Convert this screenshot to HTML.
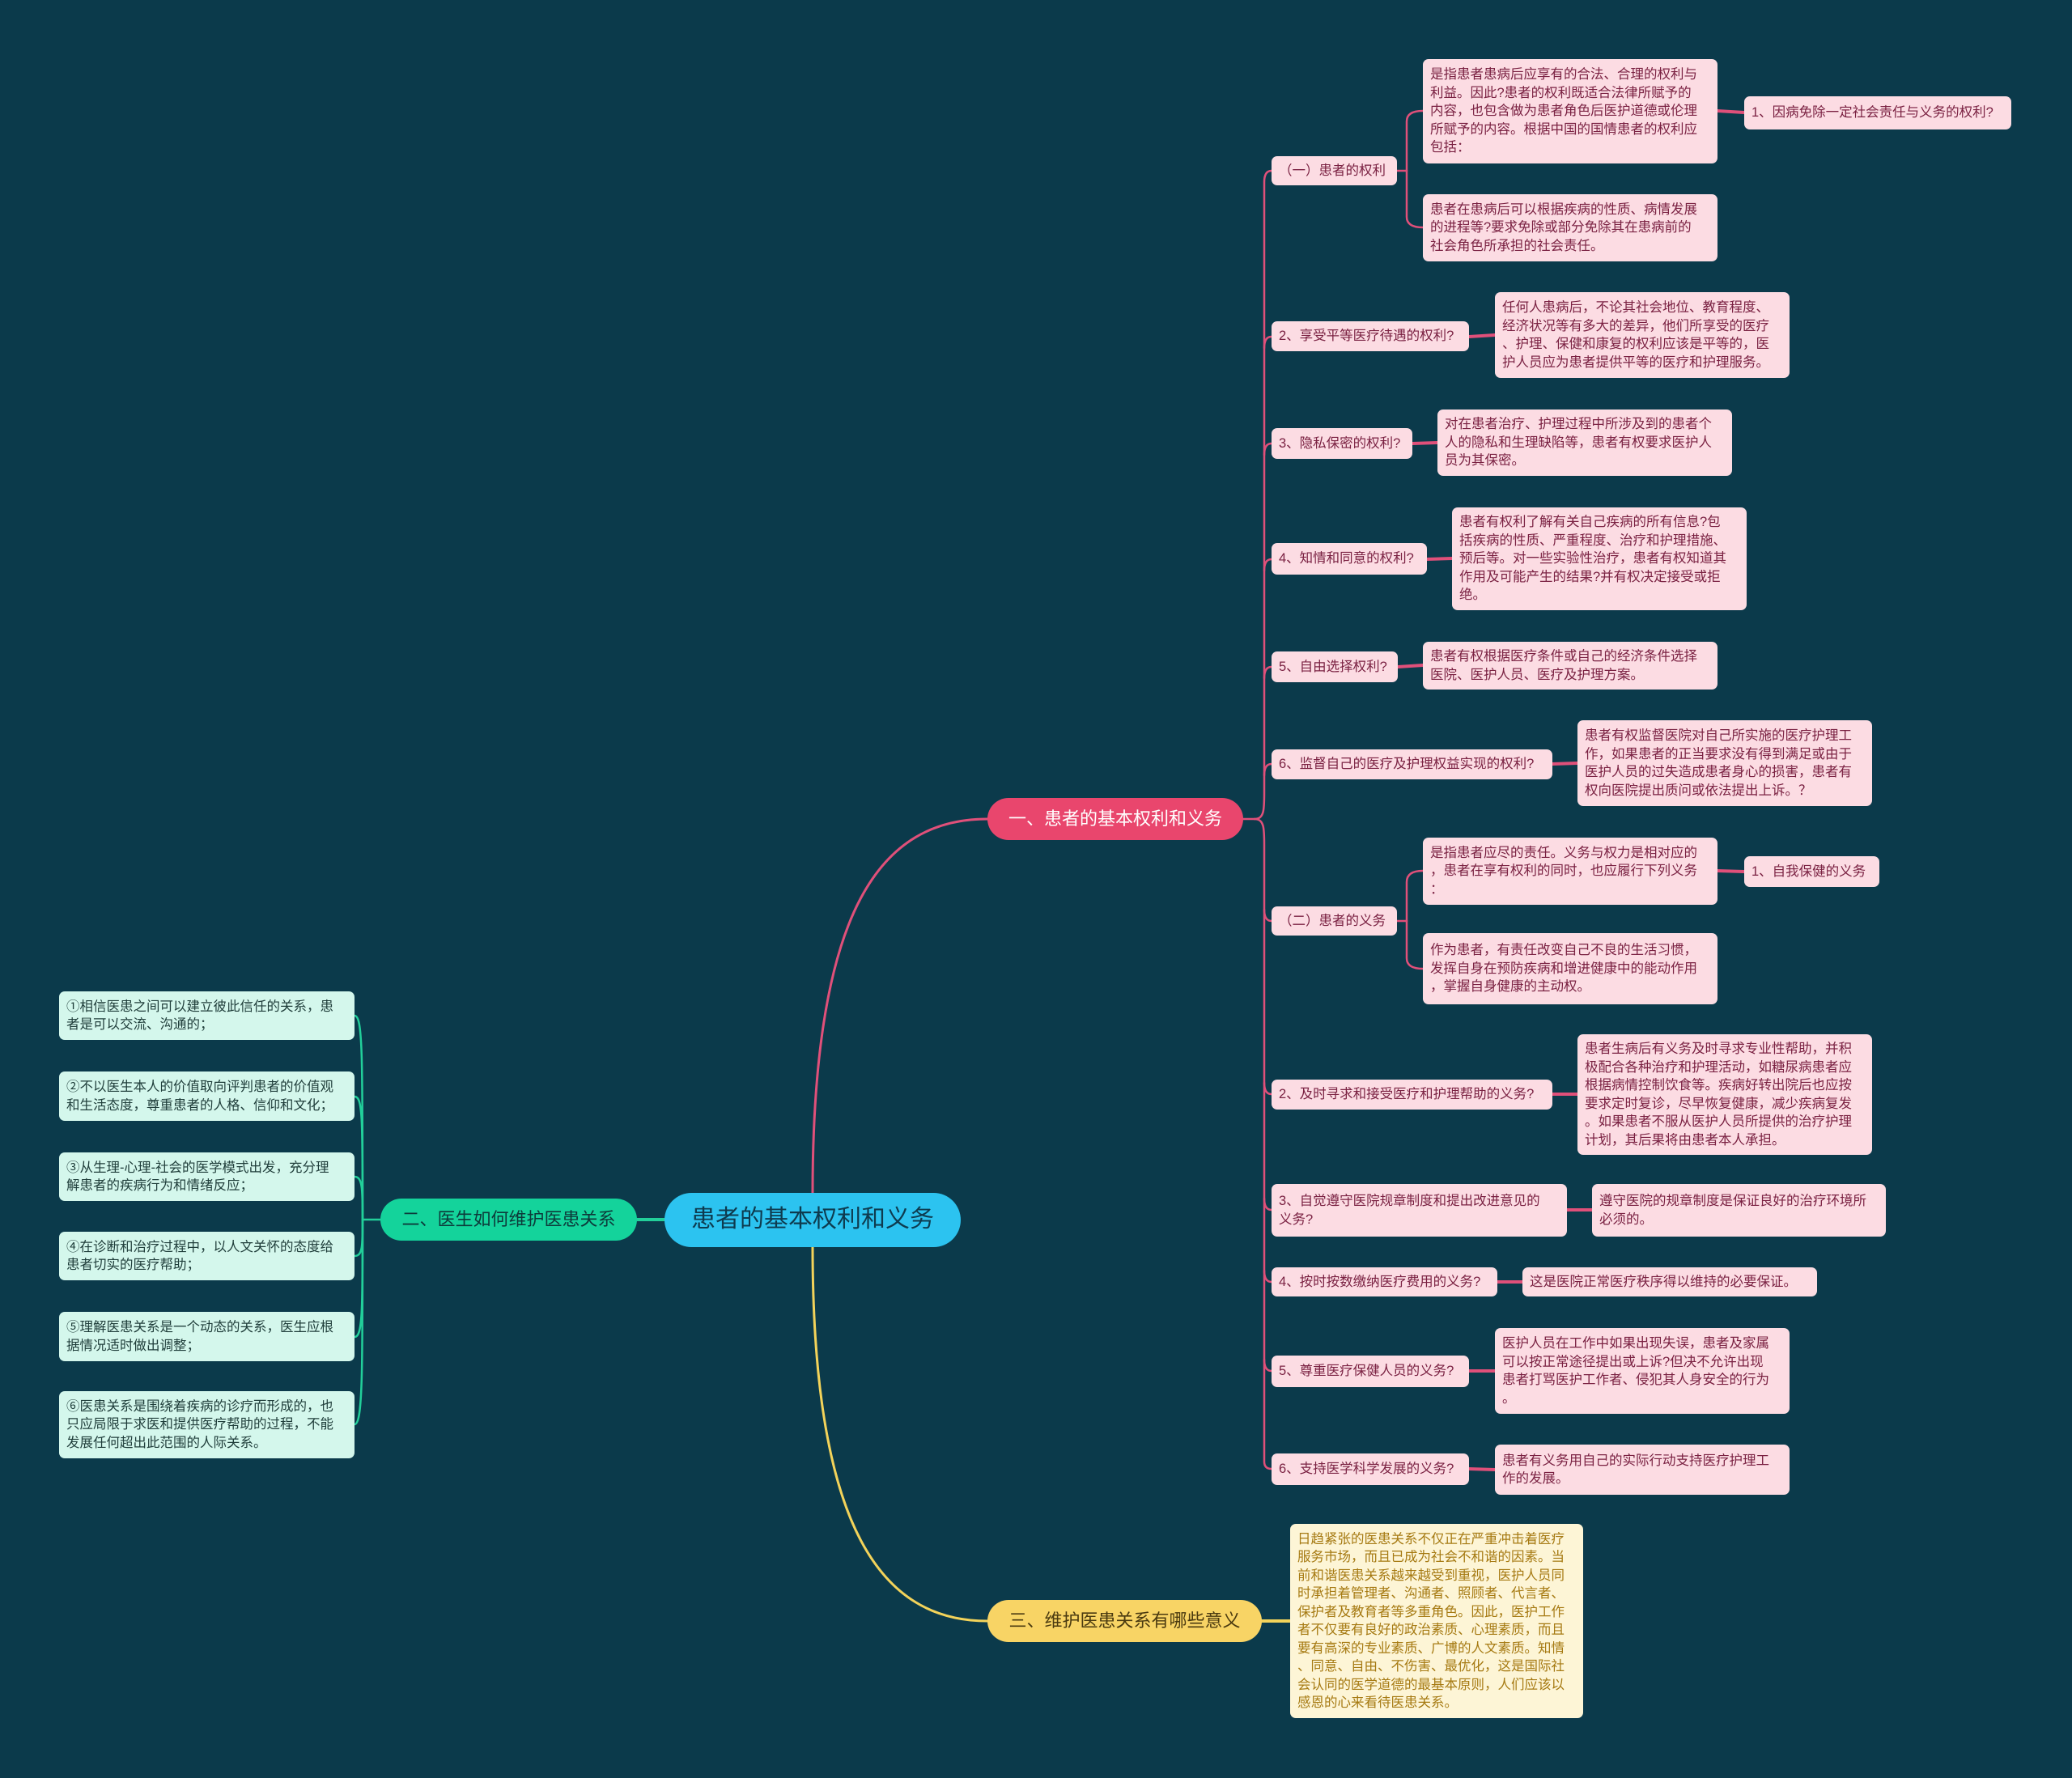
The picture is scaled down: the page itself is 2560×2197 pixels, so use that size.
<!DOCTYPE html>
<html><head><meta charset="utf-8">
<style>
html,body{margin:0;padding:0}
body{width:2560px;height:2197px;background:#0b3a4b;position:relative;overflow:hidden;font-family:"Liberation Sans","Noto Sans CJK SC",sans-serif}
.n{position:absolute;box-sizing:border-box;border-radius:7px;font-size:16.5px;line-height:22.5px;display:flex;align-items:center;padding:4px 9px;white-space:nowrap}
.p{background:#fcdce3;color:#7a2142}
.g{background:#d4f7ec;color:#1f3d3a}
.y{background:#fdf5d6;color:#a67a12}
.b{border-radius:26px;justify-content:center;font-size:22px}
svg{position:absolute;left:0;top:0}
</style></head><body>
<svg width="2560" height="2197" fill="none" stroke-linecap="round">
<!-- root connectors -->
<path d="M1004,1474 C1004,1120 1090,1012 1220,1012" stroke="#e0507a" stroke-width="3"/>
<path d="M1004,1541 C1004,1890 1090,2003 1220,2003" stroke="#f3d35a" stroke-width="3"/>
<path d="M787,1507 L821,1507" stroke="#22cf9a" stroke-width="4"/>
<!-- green leaves -->
<g stroke="#22cf9a" stroke-width="2.5">
<path d="M470,1507 L448,1507"/>
<path d="M448,1507 C448,1300 448,1255 438,1255"/>
<path d="M448,1507 C448,1380 448,1355 438,1355"/>
<path d="M448,1507 C448,1470 448,1454 438,1454"/>
<path d="M448,1507 C448,1540 448,1552 438,1552"/>
<path d="M448,1507 C448,1620 448,1652 438,1652"/>
<path d="M448,1507 C448,1700 448,1760 438,1760"/>
</g>
<!-- pink spine -->
<g stroke="#e0507a" stroke-width="2.5">
<path d="M1536,1012 L1550,1012"/>
<path d="M1550,1012 C1562,1012 1562,1000 1562,980 L1562,225 Q1562,211 1571,211"/>
<path d="M1562,430 Q1562,416 1571,416"/>
<path d="M1562,562 Q1562,548 1571,548"/>
<path d="M1562,705 Q1562,691 1571,691"/>
<path d="M1562,838 Q1562,824 1571,824"/>
<path d="M1562,958 Q1562,944 1571,944"/>
<path d="M1550,1012 C1562,1012 1562,1024 1562,1044 L1562,1806 Q1562,1815 1571,1815"/>
<path d="M1562,1124 Q1562,1138 1571,1138"/>
<path d="M1562,1338 Q1562,1352 1571,1352"/>
<path d="M1562,1481 Q1562,1495 1571,1495"/>
<path d="M1562,1570 Q1562,1584 1571,1584"/>
<path d="M1562,1680 Q1562,1694 1571,1694"/>
<!-- level 3 -->
<path d="M1726,211 L1738,211"/>
<path d="M1738,211 L1738,150 Q1738,137 1758,137"/>
<path d="M1738,211 L1738,268 Q1738,281 1758,281"/>
<path d="M1726,1138 L1738,1138"/>
<path d="M1738,1138 L1738,1090 Q1738,1076 1758,1076"/>
<path d="M1738,1138 L1738,1184 Q1738,1197 1758,1197"/>
</g>
<g stroke="#e0507a" stroke-width="4">
<path d="M2122,137 L2155,139"/>
<path d="M1815,416 L1847,414"/>
<path d="M1745,548 L1776,547"/>
<path d="M1763,691 L1794,690"/>
<path d="M1727,824 L1758,822"/>
<path d="M1918,944 L1949,943"/>
<path d="M2122,1076 L2155,1077"/>
<path d="M1918,1352 L1949,1352"/>
<path d="M1936,1495 L1967,1495"/>
<path d="M1850,1584 L1881,1584"/>
<path d="M1815,1694 L1847,1694"/>
<path d="M1815,1815 L1847,1816"/>
</g>
<path d="M1559,2003 L1594,2003" stroke="#f3d35a" stroke-width="4"/>
</svg>

<div class="n b" style="left:821px;top:1474px;width:366px;height:67px;background:#2cc3f0;color:#0e3b4f;font-size:30px;border-radius:34px">患者的基本权利和义务</div>
<div class="n b" style="left:470px;top:1481px;width:317px;height:52px;background:#14d39b;color:#0d3a3a">二、医生如何维护医患关系</div>
<div class="n b" style="left:1220px;top:986px;width:316px;height:52px;background:#e9466d;color:#fff">一、患者的基本权利和义务</div>
<div class="n b" style="left:1220px;top:1977px;width:339px;height:52px;background:#f8d465;color:#4a3a10">三、维护医患关系有哪些意义</div>

<div class="n g" style="left:73px;top:1225px;width:365px;height:60px">①相信医患之间可以建立彼此信任的关系，患<br>者是可以交流、沟通的；</div>
<div class="n g" style="left:73px;top:1324px;width:365px;height:61px">②不以医生本人的价值取向评判患者的价值观<br>和生活态度，尊重患者的人格、信仰和文化；</div>
<div class="n g" style="left:73px;top:1424px;width:365px;height:60px">③从生理-心理-社会的医学模式出发，充分理<br>解患者的疾病行为和情绪反应；</div>
<div class="n g" style="left:73px;top:1522px;width:365px;height:60px">④在诊断和治疗过程中，以人文关怀的态度给<br>患者切实的医疗帮助；</div>
<div class="n g" style="left:73px;top:1621px;width:365px;height:61px">⑤理解医患关系是一个动态的关系，医生应根<br>据情况适时做出调整；</div>
<div class="n g" style="left:73px;top:1719px;width:365px;height:83px">⑥医患关系是围绕着疾病的诊疗而形成的，也<br>只应局限于求医和提供医疗帮助的过程，不能<br>发展任何超出此范围的人际关系。</div>

<div class="n p" style="left:1571px;top:193px;width:155px;height:36px">（一）患者的权利</div>
<div class="n p" style="left:1758px;top:73px;width:364px;height:129px">是指患者患病后应享有的合法、合理的权利与<br>利益。因此?患者的权利既适合法律所赋予的<br>内容，也包含做为患者角色后医护道德或伦理<br>所赋予的内容。根据中国的国情患者的权利应<br>包括：</div>
<div class="n p" style="left:2155px;top:119px;width:330px;height:41px">1、因病免除一定社会责任与义务的权利?</div>
<div class="n p" style="left:1758px;top:240px;width:364px;height:83px">患者在患病后可以根据疾病的性质、病情发展<br>的进程等?要求免除或部分免除其在患病前的<br>社会角色所承担的社会责任。</div>
<div class="n p" style="left:1571px;top:397px;width:244px;height:37px">2、享受平等医疗待遇的权利?</div>
<div class="n p" style="left:1847px;top:361px;width:364px;height:106px">任何人患病后，不论其社会地位、教育程度、<br>经济状况等有多大的差异，他们所享受的医疗<br>、护理、保健和康复的权利应该是平等的，医<br>护人员应为患者提供平等的医疗和护理服务。</div>
<div class="n p" style="left:1571px;top:529px;width:174px;height:38px">3、隐私保密的权利?</div>
<div class="n p" style="left:1776px;top:506px;width:364px;height:82px">对在患者治疗、护理过程中所涉及到的患者个<br>人的隐私和生理缺陷等，患者有权要求医护人<br>员为其保密。</div>
<div class="n p" style="left:1571px;top:671px;width:192px;height:39px">4、知情和同意的权利?</div>
<div class="n p" style="left:1794px;top:627px;width:364px;height:127px">患者有权利了解有关自己疾病的所有信息?包<br>括疾病的性质、严重程度、治疗和护理措施、<br>预后等。对一些实验性治疗，患者有权知道其<br>作用及可能产生的结果?并有权决定接受或拒<br>绝。</div>
<div class="n p" style="left:1571px;top:805px;width:156px;height:38px">5、自由选择权利?</div>
<div class="n p" style="left:1758px;top:793px;width:364px;height:59px">患者有权根据医疗条件或自己的经济条件选择<br>医院、医护人员、医疗及护理方案。</div>
<div class="n p" style="left:1571px;top:926px;width:347px;height:37px">6、监督自己的医疗及护理权益实现的权利?</div>
<div class="n p" style="left:1949px;top:890px;width:364px;height:106px">患者有权监督医院对自己所实施的医疗护理工<br>作，如果患者的正当要求没有得到满足或由于<br>医护人员的过失造成患者身心的损害，患者有<br>权向医院提出质问或依法提出上诉。？</div>
<div class="n p" style="left:1571px;top:1120px;width:155px;height:36px">（二）患者的义务</div>
<div class="n p" style="left:1758px;top:1035px;width:364px;height:83px">是指患者应尽的责任。义务与权力是相对应的<br>，患者在享有权利的同时，也应履行下列义务<br>：</div>
<div class="n p" style="left:2155px;top:1058px;width:167px;height:38px">1、自我保健的义务</div>
<div class="n p" style="left:1758px;top:1153px;width:364px;height:88px">作为患者，有责任改变自己不良的生活习惯，<br>发挥自身在预防疾病和增进健康中的能动作用<br>，掌握自身健康的主动权。</div>
<div class="n p" style="left:1571px;top:1334px;width:347px;height:37px">2、及时寻求和接受医疗和护理帮助的义务?</div>
<div class="n p" style="left:1949px;top:1278px;width:364px;height:149px">患者生病后有义务及时寻求专业性帮助，并积<br>极配合各种治疗和护理活动，如糖尿病患者应<br>根据病情控制饮食等。疾病好转出院后也应按<br>要求定时复诊，尽早恢复健康，减少疾病复发<br>。如果患者不服从医护人员所提供的治疗护理<br>计划，其后果将由患者本人承担。</div>
<div class="n p" style="left:1571px;top:1463px;width:365px;height:65px">3、自觉遵守医院规章制度和提出改进意见的<br>义务?</div>
<div class="n p" style="left:1967px;top:1463px;width:363px;height:65px">遵守医院的规章制度是保证良好的治疗环境所<br>必须的。</div>
<div class="n p" style="left:1571px;top:1566px;width:279px;height:36px">4、按时按数缴纳医疗费用的义务?</div>
<div class="n p" style="left:1881px;top:1566px;width:364px;height:36px">这是医院正常医疗秩序得以维持的必要保证。</div>
<div class="n p" style="left:1571px;top:1675px;width:244px;height:39px">5、尊重医疗保健人员的义务?</div>
<div class="n p" style="left:1847px;top:1641px;width:364px;height:106px">医护人员在工作中如果出现失误，患者及家属<br>可以按正常途径提出或上诉?但决不允许出现<br>患者打骂医护工作者、侵犯其人身安全的行为<br>。</div>
<div class="n p" style="left:1571px;top:1796px;width:244px;height:39px">6、支持医学科学发展的义务?</div>
<div class="n p" style="left:1847px;top:1785px;width:364px;height:62px">患者有义务用自己的实际行动支持医疗护理工<br>作的发展。</div>

<div class="n y" style="left:1594px;top:1883px;width:362px;height:240px">日趋紧张的医患关系不仅正在严重冲击着医疗<br>服务市场，而且已成为社会不和谐的因素。当<br>前和谐医患关系越来越受到重视，医护人员同<br>时承担着管理者、沟通者、照顾者、代言者、<br>保护者及教育者等多重角色。因此，医护工作<br>者不仅要有良好的政治素质、心理素质，而且<br>要有高深的专业素质、广博的人文素质。知情<br>、同意、自由、不伤害、最优化，这是国际社<br>会认同的医学道德的最基本原则，人们应该以<br>感恩的心来看待医患关系。</div>
</body></html>
